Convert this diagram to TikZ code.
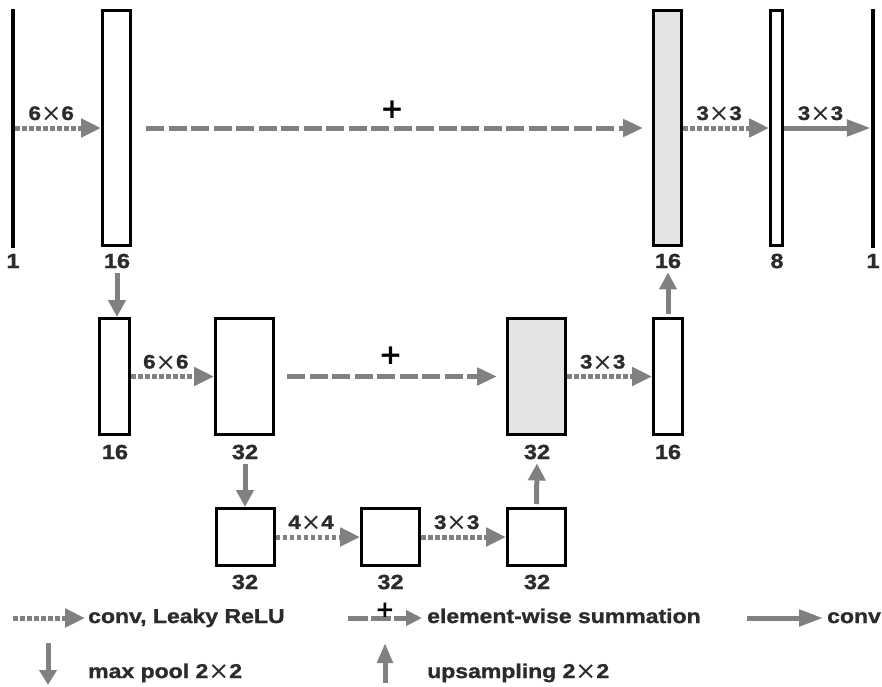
\documentclass[tikz,border=0pt]{standalone}
\usepackage{fontspec}
\usepackage{graphicx}
\setmainfont{Liberation Sans}[FakeStretch=1.15, BoldFeatures={FakeStretch=1.15, FakeBold=1.2}]
\newfontfamily\symf{DejaVu Sans}
\newfontfamily\plusf{DejaVu Sans}
\usetikzlibrary{arrows.meta}
\definecolor{arrgray}{HTML}{808080}
\definecolor{txtc}{HTML}{2B2B2B}
\definecolor{fillg}{HTML}{E4E4E4}
\newcommand\tms{\raisebox{-0.08em}{\scalebox{1.25}{\symf\mdseries ×}}}
\begin{document}
\begin{tikzpicture}[x=1pt,y=-1pt,
  box/.style={draw=black, line width=3pt, fill=white, inner sep=0pt},
  vline/.style={fill=black, inner sep=0pt, minimum width=4pt, minimum height=239pt},
  num/.style={font=\fontsize{20.5}{20.5}\selectfont\bfseries, text=txtc, inner sep=0pt},
  klab/.style={font=\fontsize{19.5}{19.5}\selectfont\bfseries, text=txtc, inner sep=0pt},
  plus/.style={font=\plusf\fontsize{28}{28}\selectfont\bfseries, text=black, inner sep=0pt},
  leg/.style={font=\fontsize{20}{20}\selectfont\bfseries, text=txtc, inner sep=0pt, anchor=base west},
  convdot/.style={draw=arrgray, line width=5pt, dash pattern=on 4.5pt off 2.5pt, -{Triangle[length=20pt,width=18pt]}},
  sumdash/.style={draw=arrgray, line width=5pt, dash pattern=on 18pt off 4.5pt, -{Triangle[length=20pt,width=17pt]}},
  convsolid/.style={draw=arrgray, line width=5pt, -{Triangle[length=24pt,width=16pt]}},
  vert/.style={draw=arrgray, line width=5pt, -{Triangle[length=17pt,width=17pt]}}
]
\useasboundingbox (0,0) rectangle (882,686);

% ---- top row ----
\node[vline] (in1) at (13,128) {};
\node[box, minimum width=28pt, minimum height=235pt] (b16a) at (116.5,128) {};
\node[box, fill=fillg, minimum width=28pt, minimum height=235pt] (g16) at (667.5,128) {};
\node[box, minimum width=12pt, minimum height=235pt] (b8) at (776.5,128) {};
\node[vline] (out1) at (873,128) {};

\node[num] (lin1) at (13,261) {1};
\node[num] (l16a) at (117,261) {16};
\node[num] (lg16) at (668,261) {16};
\node[num] (l8) at (777,261) {8};
\node[num] (lout1) at (873,261) {1};

% ---- middle row ----
\node[box, minimum width=30pt, minimum height=116pt] (b16b) at (114.5,376.5) {};
\node[box, minimum width=58pt, minimum height=116pt] (b32a) at (244.5,376.5) {};
\node[box, fill=fillg, minimum width=58pt, minimum height=116pt] (g32) at (536.5,376.5) {};
\node[box, minimum width=29pt, minimum height=116pt] (b16c) at (668,376.5) {};

\node[num] (l16b) at (115,452) {16};
\node[num] (l32a) at (245,452) {32};
\node[num] (lg32) at (537,452) {32};
\node[num] (l16c) at (668,452) {16};

% ---- bottom row ----
\node[box, minimum width=58pt, minimum height=57pt] (c1) at (245,537) {};
\node[box, minimum width=58pt, minimum height=57pt] (c2) at (390.5,537) {};
\node[box, minimum width=58pt, minimum height=57pt] (c3) at (536.5,537) {};

\node[num] (lc1) at (245,582) {32};
\node[num] (lc2) at (390.5,582) {32};
\node[num] (lc3) at (537,582) {32};

% ---- connectors ----
\draw[convdot] (in1) -- (b16a) node[klab, pos=0.42, above=4pt] {6\tms6};
\draw[sumdash, shorten <=14pt, shorten >=9pt] (b16a) -- (g16) node[plus, midway, yshift=18pt] {+};
\draw[convdot] (g16) -- (b8) node[klab, pos=0.42, above=4pt] {3\tms3};
\draw[convsolid] (b8) -- (out1) node[klab, pos=0.42, above=4pt] {3\tms3};

\draw[convdot] (b16b) -- (b32a) node[klab, pos=0.42, above=4pt] {6\tms6};
\draw[sumdash, shorten <=12pt, shorten >=9pt] (b32a) -- (g32) node[plus, midway, yshift=21pt] {+};
\draw[convdot] (g32) -- (b16c) node[klab, pos=0.42, above=4pt] {3\tms3};

\draw[convdot] (c1) -- (c2) node[klab, pos=0.42, above=4pt] {4\tms4};
\draw[convdot] (c2) -- (c3) node[klab, pos=0.42, above=4pt] {3\tms3};

\draw[vert, shorten <=5pt] (l16a.south) -- (l16a.south |- b16b.north);
\draw[vert, shorten <=3pt, shorten >=4pt] (b16c.north) -- (lg16.south);
\draw[vert, shorten <=5pt] (l32a.south) -- (l32a.south |- c1.north);
\draw[vert, shorten <=3pt, shorten >=4pt] (c3.north) -- (lg32.south);

% ---- legend ----
\coordinate (k1a) at (13,618);
\coordinate (k1b) at (85,618);
\draw[convdot] (k1a) -- (k1b);
\node[leg] (t1) at (88,623) {conv, Leaky ReLU};

\coordinate (k2a) at (348,618);
\coordinate (k2b) at (422,618);
\draw[sumdash, dash pattern=on 20pt off 3pt, -{Triangle[length=16pt,width=15pt]}] (k2a) -- (k2b)
  node[plus, font=\plusf\fontsize{23}{23}\selectfont\bfseries, pos=0.5, yshift=8pt] {+};
\node[leg] (t2) at (427,623) {element-wise summation};

\coordinate (k3a) at (747,618);
\coordinate (k3b) at (823,618);
\draw[convsolid] (k3a) -- (k3b);
\node[leg] (t3) at (827,623) {conv};

\coordinate (k4a) at (48,643);
\coordinate (k4b) at (48,685);
\draw[vert, -{Triangle[length=15pt,width=17pt]}] (k4a) -- (k4b);
\node[leg] (t4) at (88,678) {max pool 2\tms2};

\coordinate (k5a) at (385,683);
\coordinate (k5b) at (385,643);
\draw[vert, -{Triangle[length=20pt,width=15pt]}] (k5a) -- (k5b);
\node[leg] (t5) at (427,678) {upsampling 2\tms2};
\end{tikzpicture}
\end{document}
